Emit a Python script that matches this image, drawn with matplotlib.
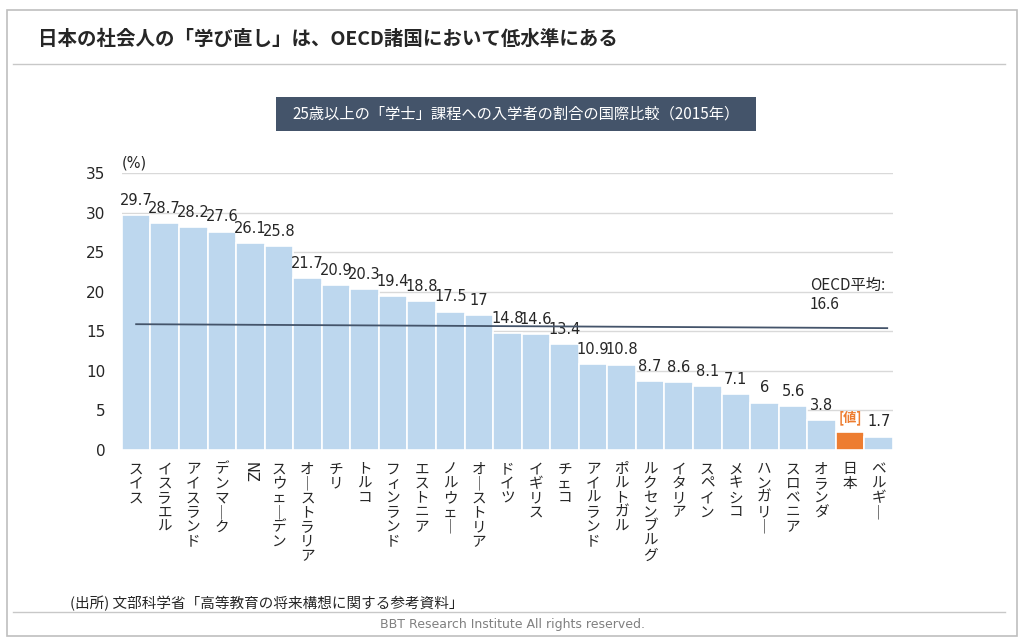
import numpy as np
import matplotlib
matplotlib.use('Agg')
import matplotlib.pyplot as plt
from matplotlib.patches import Rectangle
from matplotlib.lines import Line2D
import matplotlib.transforms as mtransforms

JP = ['Noto Sans CJK JP', 'DejaVu Sans']
NUM = ['DejaVu Sans', 'Noto Sans CJK JP']

# data
countries = ['スイス', 'イスラエル', 'アイスランド', 'デンマーク', 'NZ', 'スウェーデン',
             'オーストラリア', 'チリ', 'トルコ', 'フィンランド', 'エストニア', 'ノルウェー',
             'オーストリア', 'ドイツ', 'イギリス', 'チェコ', 'アイルランド', 'ポルトガル',
             'ルクセンブルグ', 'イタリア', 'スペイン', 'メキシコ', 'ハンガリー', 'スロベニア',
             'オランダ', '日本', 'ベルギー']
values = [29.7, 28.7, 28.2, 27.6, 26.1, 25.8, 21.7, 20.9, 20.3, 19.4, 18.8, 17.5, 17,
          14.8, 14.6, 13.4, 10.9, 10.8, 8.7, 8.6, 8.1, 7.1, 6, 5.6, 3.8, 2.3, 1.7]
value_labels = ['29.7', '28.7', '28.2', '27.6', '26.1', '25.8', '21.7', '20.9', '20.3',
                '19.4', '18.8', '17.5', '17', '14.8', '14.6', '13.4', '10.9', '10.8',
                '8.7', '8.6', '8.1', '7.1', '6', '5.6', '3.8', '[値]', '1.7']
highlight = '日本'
oecd_line = [15.9, 15.4]   # drawn line, start and end
oecd_label = 'OECD平均:\n16.6'
yticks = [0, 5, 10, 15, 20, 25, 30, 35]

fig = plt.figure(figsize=(10.24, 6.41), dpi=100)

# frame and header
fig.patches.append(Rectangle((0.007, 0.008), 0.986, 0.976, transform=fig.transFigure,
                             fill=False, edgecolor='#bfbfbf', linewidth=1.2))
fig.lines.append(Line2D([0.013, 0.981], [0.900, 0.900], transform=fig.transFigure,
                        color='#c8c8c8', linewidth=1))
fig.lines.append(Line2D([0.013, 0.981], [0.045, 0.045], transform=fig.transFigure,
                        color='#c8c8c8', linewidth=1))
fig.text(0.037, 0.938, '日本の社会人の「学び直し」は、OECD諸国において低水準にある',
         family=JP, fontsize=14, fontweight='bold', color='#262626', va='center')
fig.patches.append(Rectangle((0.2695, 0.796), 0.4685, 0.053, transform=fig.transFigure,
                             facecolor='#44546a', edgecolor='none'))
fig.text(0.504, 0.822, '25歳以上の「学士」課程への入学者の割合の国際比較（2015年）',
         family=JP, fontsize=11, color='white', ha='center', va='center')
fig.text(0.068, 0.058, '(出所) 文部科学省「高等教育の将来構想に関する参考資料」',
         family=JP, fontsize=10.5, color='#262626', va='center')
fig.text(0.5, 0.025, 'BBT Research Institute All rights reserved.',
         family=NUM, fontsize=9, color='#808080', ha='center', va='center')

ax = fig.add_axes([0.119, 0.298, 0.753, 0.432])
x = np.arange(len(countries))
colors = ['#ed7d31' if c == highlight else '#bdd7ee' for c in countries]
ax.bar(x, values, width=1.0, color=colors, edgecolor='white', linewidth=1.2, zorder=2)

for xi, v, lab, c in zip(x, values, value_labels, countries):
    if c == highlight:
        ax.text(xi, v + 0.9, lab, ha='center', va='bottom', fontsize=9.5,
                color='#ed7d31', family=JP, fontweight='bold')
    else:
        ax.text(xi, v + 0.9, lab, ha='center', va='bottom', fontsize=10.5,
                color='#262626', family=NUM)

ax.plot([x[0], x[-1] + 0.3], oecd_line, color='#44546a', linewidth=1.3, zorder=3)
ax.text(23.6, 17.3, oecd_label, fontsize=11, color='#262626', family=JP,
        va='bottom', ha='left', linespacing=1.2)

ax.set_xlim(-0.5, len(countries) - 0.5)
ax.set_ylim(0, 35)
ax.set_yticks(yticks)
ax.set_yticklabels([str(t) for t in yticks], fontsize=11, color='#262626')
ax.tick_params(axis='y', length=0, pad=12)
ax.set_xticks([])
ax.grid(axis='y', color='#d9d9d9', linewidth=1, zorder=0)
ax.set_axisbelow(True)
for s in ax.spines.values():
    s.set_visible(False)

ax.text(0.0, 1.01, '(%)', transform=ax.transAxes, fontsize=10.5, color='#262626',
        family=NUM, va='bottom', ha='left')

# vertical category labels
trans = mtransforms.blended_transform_factory(ax.transData, ax.transAxes)
for xi, c in zip(x, countries):
    if c.isascii():
        ax.text(xi, -0.045, c, transform=trans, rotation=-90, ha='center', va='top',
                fontsize=10.5, color='#262626', family=NUM)
    else:
        stacked = '\n'.join(ch if ch != 'ー' else '｜' for ch in c)
        ax.text(xi, -0.045, stacked, transform=trans, ha='center', va='top',
                fontsize=10.5, color='#262626', family=JP, linespacing=1.03)

fig.savefig('out.png', dpi=100)
